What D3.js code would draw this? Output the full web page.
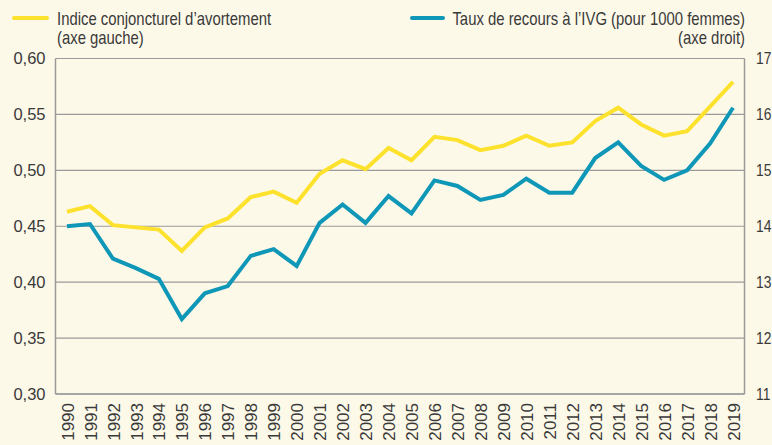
<!DOCTYPE html>
<html><head><meta charset="utf-8">
<script src="https://cdn.jsdelivr.net/npm/d3@7"></script>
<style>
html,body{margin:0;padding:0;background:#fdf9e9;}
svg{display:block;}
text{font-family:"Liberation Sans Narrow","Arial Narrow","Liberation Sans",sans-serif;fill:#3a3a3a;}
</style></head>
<body><svg id="c" width="772" height="445"></svg>
<script>
const years = [1990,1991,1992,1993,1994,1995,1996,1997,1998,1999,2000,2001,2002,2003,2004,2005,2006,2007,2008,2009,2010,2011,2012,2013,2014,2015,2016,2017,2018,2019];
const indice = [0.463,0.468,0.451,0.449,0.447,0.428,0.449,0.457,0.476,0.481,0.471,0.497,0.509,0.501,0.520,0.509,0.530,0.527,0.518,0.522,0.531,0.522,0.525,0.544,0.556,0.541,0.531,0.535,0.557,0.579];
const taux = [14.0,14.04,13.42,13.25,13.06,12.34,12.80,12.93,13.47,13.59,13.29,14.06,14.39,14.06,14.54,14.23,14.82,14.72,14.47,14.56,14.85,14.60,14.60,15.22,15.50,15.08,14.83,15.00,15.48,16.12];
const leftTicks = [0.30,0.35,0.40,0.45,0.50,0.55,0.60];
const rightTicks = [11,12,13,14,15,16,17];
const legendLeft = ["Indice conjoncturel d’avortement","(axe gauche)"];
const legendRight = ["Taux de recours à l’IVG (pour 1000 femmes)","(axe droit)"];

const svg = d3.select("#c");
const L=55.5, R=744.5, T=58.5, B=394;
const colY="#fde22d", colB="#0f97b8";
const x = d3.scalePoint().domain(years).range([L,R]).padding(0.5);
const yL = d3.scaleLinear().domain([0.30,0.60]).range([B,T]);
const yR = d3.scaleLinear().domain([11,17]).range([B,T]);

// gridlines
svg.append("g").selectAll("line").data(leftTicks).join("line")
  .attr("x1",L).attr("x2",R).attr("y1",d=>yL(d)).attr("y2",d=>yL(d))
  .attr("stroke","#9a9a9a").attr("stroke-width",1.2);
svg.append("line").attr("x1",L).attr("x2",L).attr("y1",T).attr("y2",B).attr("stroke","#9a9a9a").attr("stroke-width",1.5);
svg.append("line").attr("x1",R).attr("x2",R).attr("y1",T).attr("y2",B).attr("stroke","#9a9a9a").attr("stroke-width",1.5);
svg.append("line").attr("x1",L).attr("x2",R).attr("y1",B).attr("y2",B).attr("stroke","#9a9a9a").attr("stroke-width",1.5);

// axes
const fmt = d=>d3.format(".2f")(d).replace(".",",");
const aL = svg.append("g").attr("transform",`translate(${L},0)`)
  .call(d3.axisLeft(yL).tickValues(leftTicks).tickFormat(fmt).tickSize(0).tickPadding(10));
const aR = svg.append("g").attr("transform",`translate(${R},0)`)
  .call(d3.axisRight(yR).tickValues(rightTicks).tickFormat(d3.format("d")).tickSize(0).tickPadding(11));
const aX = svg.append("g").attr("transform",`translate(0,${B})`)
  .call(d3.axisBottom(x).tickSize(0).tickFormat(d3.format("d")));
[aL,aR,aX].forEach(g=>{g.select(".domain").remove();g.selectAll("text").style("font-size","16.5px").attr("fill","#3a3a3a");});
aR.selectAll("text").attr("x",0).attr("transform","translate(11.5,0) scale(0.84,1)");
aX.selectAll("text").style("font-size","17px")
  .attr("transform","rotate(-90)").attr("text-anchor","end")
  .attr("x",-9).attr("y",0).attr("dy","0.36em");

// lines
const lineL = d3.line().x((d,i)=>x(years[i])).y(d=>yL(d));
const lineR = d3.line().x((d,i)=>x(years[i])).y(d=>yR(d));
svg.append("path").datum(indice).attr("d",lineL).attr("fill","none").attr("stroke",colY).attr("stroke-width",4).attr("stroke-linejoin","miter");
svg.append("path").datum(taux).attr("d",lineR).attr("fill","none").attr("stroke",colB).attr("stroke-width",4).attr("stroke-linejoin","miter");

// legend
const sx = 0.85;
svg.append("line").attr("x1",14).attr("x2",47).attr("y1",18).attr("y2",18).attr("stroke",colY).attr("stroke-width",4).attr("stroke-linecap","round");
svg.append("g").selectAll("text").data(legendLeft).join("text")
  .attr("transform",(d,i)=>`translate(57,${25+i*19}) scale(${sx},1)`).style("font-size","17.5px").text(d=>d);
svg.append("line").attr("x1",412).attr("x2",443).attr("y1",18).attr("y2",18).attr("stroke",colB).attr("stroke-width",4).attr("stroke-linecap","round");
svg.append("g").selectAll("text").data(legendRight).join("text")
  .attr("transform",(d,i)=>`translate(745,${25+i*19}) scale(${sx},1)`).attr("text-anchor","end").style("font-size","17.5px").text(d=>d);
</script></body></html>
